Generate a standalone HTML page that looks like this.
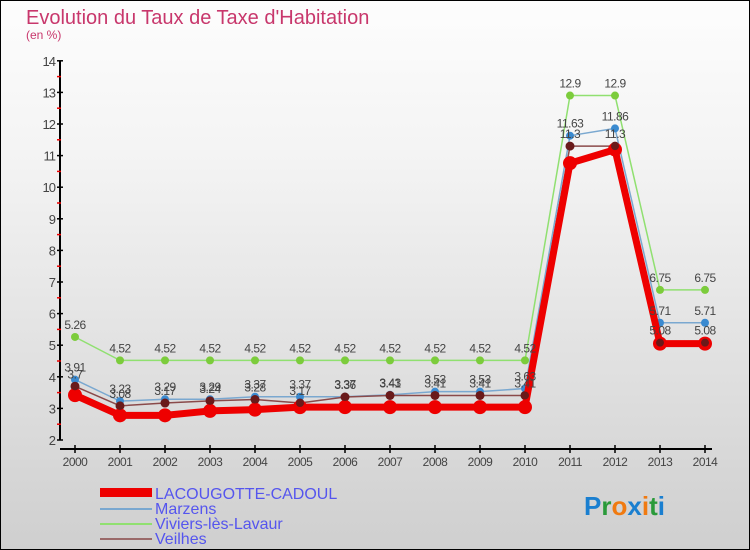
<!DOCTYPE html>
<html><head><meta charset="utf-8"><style>
body{margin:0}
#wrap{width:750px;height:550px;position:relative;box-sizing:border-box;border:1px solid #000;background:linear-gradient(#fdfdfd,#f3f3f3 30%,#cfcfcf);font-family:"Liberation Sans",sans-serif;overflow:hidden}
</style></head><body>
<div id="wrap">
<svg id="svg" width="750" height="550" style="position:absolute;left:-1px;top:-1px">
<text x="26" y="24" font-size="20" fill="#c8376c">Evolution du Taux de Taxe d'Habitation</text>
<text x="26" y="39" font-size="12" fill="#c8376c">(en %)</text>
<g id="axes"></g><g id="series"></g><g id="labels"></g>
<g>
<rect x="100" y="488" width="52" height="9" fill="#e00"/>
<text x="155" y="499" font-size="16" fill="#5555ee">LACOUGOTTE-CADOUL</text>
<rect x="100" y="508" width="52" height="2" fill="#7aa8d0"/>
<text x="155" y="514" font-size="16" fill="#5555ee">Marzens</text>
<rect x="100" y="523" width="52" height="2" fill="#90e070"/>
<text x="155" y="529" font-size="16" fill="#5555ee">Viviers-lès-Lavaur</text>
<rect x="100" y="538" width="52" height="2" fill="#9a6a6a"/>
<text x="155" y="544" font-size="16" fill="#5555ee">Veilhes</text>
</g>
<text x="584" y="515" font-size="26" font-weight="bold"><tspan fill="#1a7fd0">P</tspan><tspan fill="#2a9a3a">r</tspan><tspan fill="#f07a10">o</tspan><tspan fill="#1a7fd0">x</tspan><tspan fill="#f07a10">i</tspan><tspan fill="#2a9a3a">t</tspan><tspan fill="#1a7fd0">i</tspan></text>
</svg>
</div>
<script>
const years=[2000,2001,2002,2003,2004,2005,2006,2007,2008,2009,2010,2011,2012,2013,2014];
const yTicks=[2,3,4,5,6,7,8,9,10,11,12,13,14];
const lacougotte=[3.42,2.78,2.78,2.92,2.96,3.04,3.04,3.04,3.04,3.04,3.04,10.76,11.19,5.05,5.05];
const marzens=[3.91,3.23,3.29,3.29,3.37,3.37,3.37,3.43,3.53,3.53,3.63,11.63,11.86,5.71,5.71];
const viviers=[5.26,4.52,4.52,4.52,4.52,4.52,4.52,4.52,4.52,4.52,4.52,12.9,12.9,6.75,6.75];
const veilhes=[3.7,3.08,3.17,3.24,3.28,3.17,3.36,3.41,3.41,3.41,3.41,11.3,11.3,5.08,5.08];
const NS="http://www.w3.org/2000/svg";
const X=i=>75+i*45, Y=v=>440-(v-2)*31.6;
function mk(t,a,p){const e=document.createElementNS(NS,t);for(const k in a)e.setAttribute(k,a[k]);p.appendChild(e);return e;}
const ax=document.getElementById('axes'),se=document.getElementById('series'),lb=document.getElementById('labels');
let e=mk('line',{x1:60,y1:Y(14),x2:60,y2:Y(2),stroke:'#000','stroke-width':2},ax);


e=mk('line',{x1:60,y1:449,x2:712,y2:449,stroke:'#000','stroke-width':2},ax);


yTicks.forEach(v=>{
 mk('line',{x1:57,y1:Y(v),x2:63,y2:Y(v),stroke:'#000','stroke-width':1.5},ax);
 if(v<14)mk('line',{x1:57,y1:Y(v+0.5),x2:61,y2:Y(v+0.5),stroke:'#e00','stroke-width':1.5},ax);
 const t=mk('text',{x:55,y:Y(v)+5,'font-size':13,fill:'#444','text-anchor':'end','letter-spacing':'-1'},ax);
 t.textContent=v;
 
 
});
years.forEach((yr,i)=>{
 mk('line',{x1:X(i),y1:445,x2:X(i),y2:453,stroke:'#000','stroke-width':1.5},ax);
 const t=mk('text',{x:X(i),y:466,'font-size':12,fill:'#444','text-anchor':'middle','letter-spacing':'-0.5'},ax);
 t.textContent=yr;
 
 
});
function series(vals,name,color,w,r,dot,showLabels){
 const pts=vals.map((v,i)=>X(i)+','+Y(v)).join(' ');
 const pl=mk('polyline',{points:pts,fill:'none',stroke:color,'stroke-width':w,'stroke-linejoin':'round'},se);
 
 
 vals.forEach((v,i)=>{
  const c=mk('circle',{cx:X(i),cy:Y(v),r:r,fill:dot},se);
  
  
  if(showLabels){
   const t=mk('text',{x:X(i),y:Y(v)-8,'font-size':12,fill:'#444','text-anchor':'middle','letter-spacing':'-0.5'},lb);
   t.textContent=String(v);
   
   
  }
 });
}
series(viviers,'viviers','#90e070',1.5,4,'#7ccc3c',true);
series(marzens,'marzens','#7aa8d0',1.5,4,'#3a8ad0',true);
series(veilhes,'veilhes','#8a4a4a',1.5,4.5,'#6a1a1a',true);
series(lacougotte,'lacougotte','#ee0000',7,7,'#ee0000',false);
veilhes.forEach((v,i)=>{const c=mk('circle',{cx:X(i),cy:Y(v),r:4,fill:'#6a1a1a'},se);
 
 });
</script>
</body></html>
